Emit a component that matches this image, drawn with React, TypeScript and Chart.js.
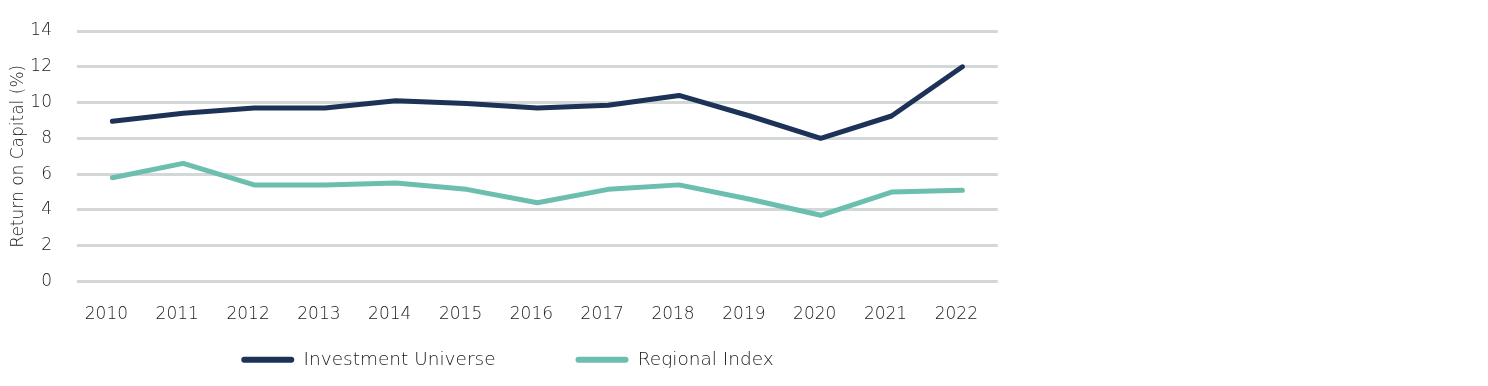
import React, { useEffect, useRef } from "react";
import { Chart, registerables } from "chart.js";

Chart.register(...registerables);

const years = ["2010", "2011", "2012", "2013", "2014", "2015", "2016", "2017", "2018", "2019", "2020", "2021", "2022"];
const investmentUniverse = [8.95, 9.4, 9.7, 9.7, 10.1, 9.95, 9.7, 9.85, 10.4, 9.25, 8.0, 9.25, 12.0];
const regionalIndex = [5.8, 6.6, 5.4, 5.4, 5.5, 5.15, 4.4, 5.15, 5.4, 4.6, 3.7, 5.0, 5.1];
const yTicks = [0, 2, 4, 6, 8, 10, 12, 14];

const FONT = "'DejaVu Sans', sans-serif";
const TEXT = "#1a1a1a";

const legendLift = {
  id: "legendLift",
  afterLayout(chart: any) {
    const l = chart.legend;
    if (l) {
      l.top -= 52;
      l.bottom -= 52;
    }
  },
};

export default function App() {
  const ref = useRef<HTMLCanvasElement | null>(null);
  useEffect(() => {
    if (!ref.current) return;
    const chart = new Chart(ref.current, {
      type: "line",
      plugins: [legendLift],
      data: {
        labels: years,
        datasets: [
          {
            label: "Investment Universe",
            data: investmentUniverse,
            borderColor: "#1c3257",
            backgroundColor: "#1c3257",
            borderWidth: 5,
            pointRadius: 0,
            tension: 0,
            borderCapStyle: "round",
            borderJoinStyle: "round",
          },
          {
            label: "Regional Index",
            data: regionalIndex,
            borderColor: "#6cbfae",
            backgroundColor: "#6cbfae",
            borderWidth: 5,
            pointRadius: 0,
            tension: 0,
            borderCapStyle: "round",
            borderJoinStyle: "round",
          },
        ],
      },
      options: {
        animation: false,
        responsive: true,
        maintainAspectRatio: false,
        layout: { padding: { top: 23, left: 0, right: 0, bottom: 0 } },
        plugins: {
          tooltip: { enabled: false },
          legend: {
            position: "bottom",
            labels: {
              font: { family: FONT, size: 18.5, weight: "300" },
              color: TEXT,
              boxWidth: 53,
              boxHeight: 6,
              useBorderRadius: true,
              borderRadius: 3,
              padding: 80,
              generateLabels: (c: any) =>
                Chart.defaults.plugins.legend.labels
                  .generateLabels(c)
                  .map((item: any) => ({ ...item, lineWidth: 0 })),
            },
          },
        },
        scales: {
          x: {
            offset: true,
            grid: { display: false, drawTicks: false },
            border: { display: false },
            ticks: {
              font: { family: FONT, size: 17, weight: "300" },
              color: TEXT,
              padding: 23,
              labelOffset: -6,
              maxRotation: 0,
            },
            afterFit: (scale: any) => {
              scale.height = 41;
            },
          },
          y: {
            min: 0,
            max: 14,
            afterBuildTicks: (axis: any) => {
              axis.ticks = yTicks.map((v) => ({ value: v }));
            },
            afterFit: (scale: any) => {
              scale.width = 69;
              scale.paddingTop = 0;
              scale.paddingBottom = 0;
            },
            grid: { color: "#d3d7d7", lineWidth: 3, drawTicks: false },
            border: { display: false },
            ticks: {
              font: { family: FONT, size: 17, weight: "300" },
              color: TEXT,
              padding: 25,
            },
            title: {
              display: true,
              text: "Return on Capital (%)",
              font: { family: FONT, size: 17, weight: "300" },
              color: TEXT,
              padding: { top: 0, bottom: 0 },
            },
          },
        },
      },
    });
    return () => chart.destroy();
  }, []);
  return (
    <div style={{ width: 999, height: 360, overflow: "hidden" }}>
      <div style={{ width: 999, height: 423, position: "relative" }}>
        <canvas ref={ref} />
      </div>
    </div>
  );
}
